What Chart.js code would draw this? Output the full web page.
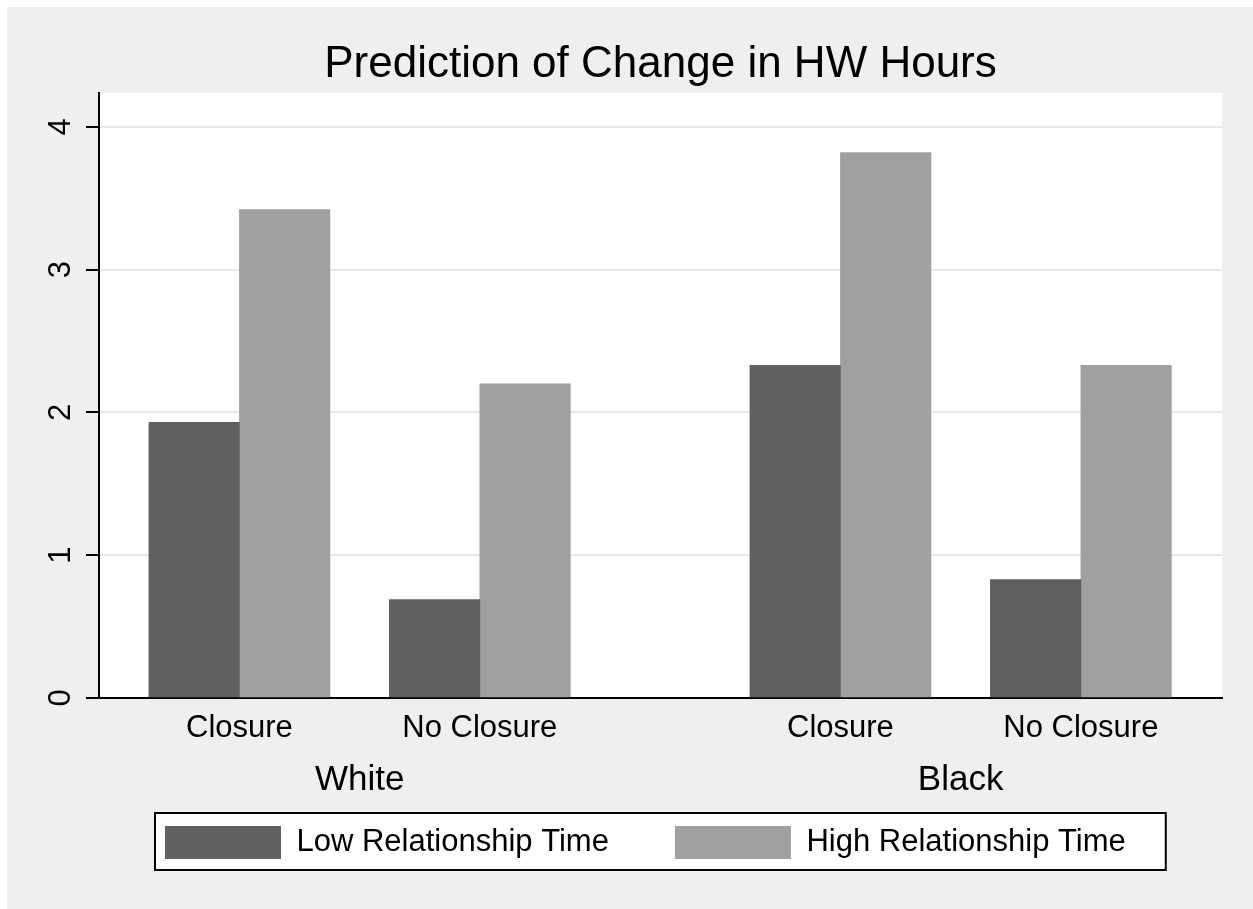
<!DOCTYPE html>
<html lang="en">
<head>
<meta charset="UTF-8">
<title>Prediction of Change in HW Hours</title>
<script src="https://cdn.jsdelivr.net/npm/chart.js@4"></script>
<style>
  body { margin: 0; background: #fff; }
  #wrap { position: absolute; left: 7px; top: 7px; }
  canvas { display: block; }
</style>
</head>
<body>
<div id="wrap"><canvas id="hwChart" width="1246" height="902"></canvas></div>
<script>
const races = ['White', 'Black'];
const closures = ['Closure', 'No Closure'];
const seriesNames = ['Low Relationship Time', 'High Relationship Time'];
// White/Closure, White/No Closure, Black/Closure, Black/No Closure
const lowRel = [1.93, 0.69, 2.33, 0.83];
const highRel = [3.42, 2.20, 3.82, 2.33];
const yTicks = [0, 1, 2, 3, 4];

// bar slots on a linear x axis, with a wider gap between the two races
const GROUP_STEP = 2.5;
const barPos = [];
const barLabels = [];
races.forEach((r, ri) => closures.forEach((c, ci) => {
  barPos.push(ri * GROUP_STEP + ci);
  barLabels.push(c);
}));
const racePos = races.map((r, ri) => ri * GROUP_STEP + (closures.length - 1) / 2);

const FONT = 'Liberation Sans, Arial, Helvetica, sans-serif';

// grey page, white plot region, framed legend
const backdrop = {
  id: 'backdrop',
  beforeDraw(chart) {
    const { ctx, chartArea: a, legend } = chart;
    ctx.save();
    ctx.fillStyle = '#efefef';
    ctx.fillRect(0, 0, chart.width, chart.height);
    ctx.fillStyle = '#fff';
    ctx.fillRect(a.left, a.top, a.right - a.left, a.bottom - a.top);
    const hb = legend && legend.legendHitBoxes;
    if (hb && hb.length) {
      const last = hb[hb.length - 1];
      const l = hb[0].left - 10, r = last.left + last.width + 40;
      const t = hb[0].top - 13, b = hb[0].top + hb[0].height + 11;
      ctx.fillRect(l, t, r - l, b - t);
      ctx.strokeStyle = '#000';
      ctx.lineWidth = 2;
      ctx.strokeRect(l, t, r - l, b - t);
    }
    ctx.restore();
  }
};

new Chart(document.getElementById('hwChart'), {
  type: 'bar',
  data: {
    datasets: [
      {
        label: seriesNames[0],
        data: lowRel.map((v, i) => ({ x: barPos[i], y: v })),
        backgroundColor: '#606060',
        borderWidth: 0
      },
      {
        label: seriesNames[1],
        data: highRel.map((v, i) => ({ x: barPos[i], y: v })),
        backgroundColor: '#a0a0a0',
        borderWidth: 0
      }
    ]
  },
  options: {
    responsive: false,
    animation: false,
    barThickness: 90.5,
    layout: { padding: { left: 0, right: 31, top: 0, bottom: 40 } },
    scales: {
      x: {
        type: 'linear',
        position: 'bottom',
        min: -0.584,
        max: 4.087,
        offset: false,
        afterBuildTicks: s => { s.ticks = barPos.map(v => ({ value: v })); },
        afterFit: s => { s.height = 50; },
        grid: { display: false, drawTicks: false, offset: false },
        border: { display: true, color: '#000', width: 2 },
        ticks: {
          autoSkip: false,
          maxRotation: 0,
          padding: 12,
          color: '#000',
          font: { family: FONT, size: 31 },
          callback: (v, i) => barLabels[i]
        }
      },
      x2: {
        type: 'linear',
        position: 'bottom',
        min: -0.584,
        max: 4.087,
        offset: false,
        afterBuildTicks: s => { s.ticks = racePos.map(v => ({ value: v })); },
        afterFit: s => { s.height = 12; },
        grid: { display: false, drawTicks: false, offset: false },
        border: { display: false },
        ticks: {
          autoSkip: false,
          maxRotation: 0,
          mirror: true, // not clipped to the (thin) axis box; padding flips sign
          padding: -53,
          color: '#000',
          font: { family: FONT, size: 35 },
          callback: (v, i) => races[i]
        }
      },
      y: {
        min: 0,
        max: 4.238,
        afterBuildTicks: s => { s.ticks = yTicks.map(v => ({ value: v })); },
        afterFit: s => { s.width = 92; },
        grid: {
          color: c => (c.tick && c.tick.value === 0) ? 'rgba(0,0,0,0)' : '#e8e8e8',
          lineWidth: 2,
          tickColor: '#000',
          tickLength: 13,
          tickWidth: 2
        },
        border: { display: true, color: '#000', width: 2 },
        ticks: {
          minRotation: 90,
          maxRotation: 90,
          crossAlign: 'center',
          padding: 16,
          color: '#000',
          font: { family: FONT, size: 31 }
        }
      }
    },
    plugins: {
      title: {
        display: true,
        text: 'Prediction of Change in HW Hours',
        fullSize: false,
        color: '#000',
        font: { family: FONT, size: 44, weight: 'normal' },
        padding: { top: 31, bottom: 2 }
      },
      legend: {
        position: 'bottom',
        align: 'start',
        fullSize: false,
        labels: {
          boxWidth: 116,
          boxHeight: 33,
          padding: 66,
          color: '#000',
          font: { family: FONT, size: 31 }
        }
      },
      tooltip: { enabled: false }
    }
  },
  plugins: [backdrop]
});
</script>
</body>
</html>
